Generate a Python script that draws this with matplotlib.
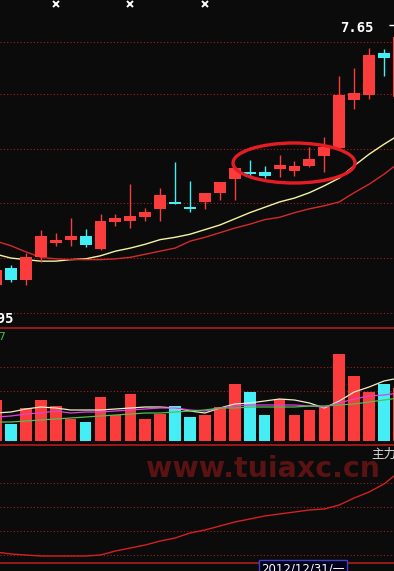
import matplotlib
matplotlib.use("Agg")
import matplotlib.pyplot as plt
from matplotlib.patches import Ellipse
import numpy as np

# daily candles, left to right
opens = [4.27, 4.49, 4.34, 4.63, 4.82, 4.86, 4.91, 4.74, 5.09, 5.10, 5.15, 5.26, 5.35, 5.28,
         5.35, 5.47, 5.65, 5.74, 5.74, 5.78, 5.75, 5.82, 5.95, 6.05, 6.67, 6.74, 7.29, 6.71]
highs = [4.49, 4.53, 4.69, 4.99, 4.95, 5.14, 5.00, 5.19, 5.19, 5.58, 5.27, 5.53, 5.87, 5.62,
         5.47, 5.61, 5.80, 5.89, 5.82, 5.96, 5.88, 6.06, 6.19, 6.99, 7.09, 7.35, 7.34, 7.65]
lows = [4.24, 4.31, 4.27, 4.57, 4.78, 4.78, 4.76, 4.73, 5.04, 5.01, 5.10, 5.10, 5.32, 5.22,
        5.26, 5.37, 5.37, 5.67, 5.66, 5.67, 5.69, 5.80, 5.74, 6.03, 6.56, 6.69, 6.99, 6.67]
closes = [4.47, 4.34, 4.63, 4.91, 4.84, 4.91, 4.79, 5.10, 5.14, 5.17, 5.22, 5.44, 5.32, 5.26,
          5.47, 5.61, 5.79, 5.71, 5.69, 5.83, 5.82, 5.91, 6.06, 6.74, 6.77, 7.26, 7.22, 7.49]

# moving averages on the price chart
ma_short = [4.67, 4.62, 4.60, 4.58, 4.58, 4.60, 4.61, 4.65, 4.71, 4.75, 4.80, 4.86, 4.89, 4.93,
            4.99, 5.05, 5.13, 5.21, 5.28, 5.35, 5.40, 5.47, 5.56, 5.66, 5.82, 5.97, 6.10, 6.22]
ma_long = [4.84, 4.78, 4.70, 4.63, 4.61, 4.60, 4.60, 4.60, 4.61, 4.63, 4.67, 4.71, 4.75, 4.84,
           4.89, 4.95, 5.01, 5.06, 5.12, 5.15, 5.21, 5.26, 5.30, 5.35, 5.47, 5.58, 5.71, 5.86]

# volume (10k lots) and its averages
volumes = [4.1, 1.7, 3.3, 4.1, 3.5, 2.2, 1.9, 4.4, 2.6, 4.7, 2.2, 2.7, 3.5, 2.4,
           2.6, 3.4, 5.7, 4.9, 2.6, 4.2, 2.6, 3.1, 3.4, 8.7, 6.5, 4.9, 5.7, 5.3]
vol_ma1 = [2.8, 2.9, 3.2, 3.4, 3.3, 3.1, 3.1, 3.1, 3.2, 3.3, 3.4, 3.4, 3.3, 3.0,
           2.8, 3.3, 3.7, 3.8, 4.0, 4.2, 4.1, 3.8, 3.3, 4.0, 4.9, 5.4, 6.0, 6.3]
vol_ma2 = [2.4, 2.5, 2.7, 2.8, 3.0, 2.8, 2.9, 2.9, 3.0, 3.1, 3.2, 3.3, 3.3, 3.1,
           3.0, 3.3, 3.5, 3.6, 3.6, 3.6, 3.6, 3.5, 3.4, 3.8, 4.2, 4.5, 4.6, 4.8]
vol_ma3 = [1.9, 1.9, 2.0, 2.1, 2.2, 2.3, 2.4, 2.5, 2.6, 2.7, 2.8, 2.8, 2.9, 3.0,
           3.1, 3.3, 3.3, 3.4, 3.4, 3.4, 3.4, 3.5, 3.5, 3.6, 3.7, 3.9, 4.1, 4.3]

# lower indicator line
main_force = [1.1, 0.9, 0.8, 0.7, 0.7, 0.7, 0.7, 0.8, 1.2, 1.5, 1.8, 2.2, 2.5, 3.0,
              3.3, 3.7, 4.1, 4.4, 4.7, 4.9, 5.1, 5.3, 5.4, 5.8, 6.5, 7.1, 7.9, 9.1]

price_grid = [7.43, 6.75, 6.04, 5.34, 4.62, 3.90]
vol_grid = [7.4, 5.0]
ind_grid = [8.0, 5.6, 3.2, 0.8]
news_days = [4, 9, 14]
high_label = "7.65"
low_label = "3.95"
vol_label = "2.37"
ind_label = "主力资金"
date_label = "2012/12/31/一"
watermark = "www.tuiaxc.cn"

BG = "#0b0b0b"
UP = "#fa3c3c"
DOWN = "#45eef5"
GRID = "#a01e1e"
SEP = "#b01c1c"

W, H = 394, 571
fig = plt.figure(figsize=(W / 100, H / 100), dpi=100, facecolor=BG)


def panel(top, bottom):
    ax = fig.add_axes([0, 1 - bottom / H, 1, (bottom - top) / H])
    ax.set_facecolor(BG)
    ax.set_xticks([])
    ax.set_yticks([])
    for s in ax.spines.values():
        s.set_visible(False)
    ax.set_xlim(0.263, 26.67)
    return ax


ax1 = panel(0, 328)
ax2 = panel(328, 445)
ax3 = panel(445, 563)
ax1.set_ylim(3.711, 7.975)
ax2.set_ylim(-0.4, 11.3)
ax3.set_ylim(0, 11.8)

for ax, levels in [(ax1, price_grid), (ax2, vol_grid), (ax3, ind_grid)]:
    for lv in levels:
        ax.axhline(lv, color=GRID, lw=0.8, ls=(0, (1, 2)), zorder=0)
for ax in (ax2, ax3):
    ax.spines["top"].set_visible(True)
    ax.spines["top"].set_color(SEP)
    ax.spines["top"].set_linewidth(1.2)
ax3.spines["bottom"].set_visible(True)
ax3.spines["bottom"].set_color(SEP)
ax3.spines["bottom"].set_linewidth(1.2)

idx = np.arange(len(opens))
o = np.array(opens)
c = np.array(closes)
colors = np.where(c >= o, UP, DOWN)

# candles
ax1.vlines(idx, lows, highs, colors=colors, lw=1.0, zorder=3)
body = np.maximum(np.abs(c - o), 0.03)
ax1.bar(idx, body, bottom=np.minimum(o, c), width=0.8, color=colors, zorder=4)
ax1.plot(idx, ma_short, color="#f4f4a0", lw=1.0, zorder=2)
ax1.plot(idx, ma_long, color="#d42a2a", lw=1.0, zorder=2)

# highlighted consolidation
ax1.add_patch(Ellipse((19.97, 5.856), 8.18, 0.52, fill=False,
                      edgecolor="#e41c24", lw=2.4, zorder=5))

# info markers along the top
ax1.plot(news_days, [0.988] * len(news_days), ls="none", marker="x", ms=4,
         mew=1.4, color="white", transform=ax1.get_xaxis_transform(), clip_on=False)

# high price label
ax1.hlines(7.65, 26.33, 26.67, color="white", lw=1.0, zorder=6)
fig.text(340 / W, 1 - 28 / H, high_label, color="white", fontsize=10,
         family="DejaVu Sans Mono", fontweight="bold", va="center", ha="left")
fig.text(14 / W, 1 - 319 / H, low_label, color="white", fontsize=10,
         family="DejaVu Sans Mono", fontweight="bold", va="center", ha="right")

# volume
ax2.bar(idx, volumes, width=0.78, color=colors, zorder=2)
ax2.plot(idx, vol_ma1, color="#f0f0c8", lw=0.9, zorder=3)
ax2.plot(idx, vol_ma2, color="#e040e0", lw=0.9, zorder=3)
ax2.plot(idx, vol_ma3, color="#50c050", lw=0.9, zorder=3)
fig.text(6 / W, 1 - 337 / H, vol_label, color="#3cc83c", fontsize=8,
         va="center", ha="right")

# indicator
ax3.plot(idx, main_force, color="#d42020", lw=1.0, zorder=3)
fig.text(146 / W, 1 - 477 / H, watermark, color="#5a1212", fontsize=20.5,
         fontweight="bold", va="baseline", ha="left", zorder=1)
fig.text(371 / W, 1 - 454 / H, ind_label, color="#d8d8d8", fontsize=9,
         family=["Noto Sans CJK SC", "DejaVu Sans"], va="center", ha="left")

fig.text(261 / W, 1 - 569 / H, date_label, color="white", fontsize=8.5,
         family=["DejaVu Sans", "Noto Sans CJK SC"], va="center", ha="left",
         bbox=dict(boxstyle="square,pad=0.2", facecolor="#000018",
                   edgecolor="#4040c8", lw=1))

fig.savefig("out.png", dpi=100, facecolor=BG)
